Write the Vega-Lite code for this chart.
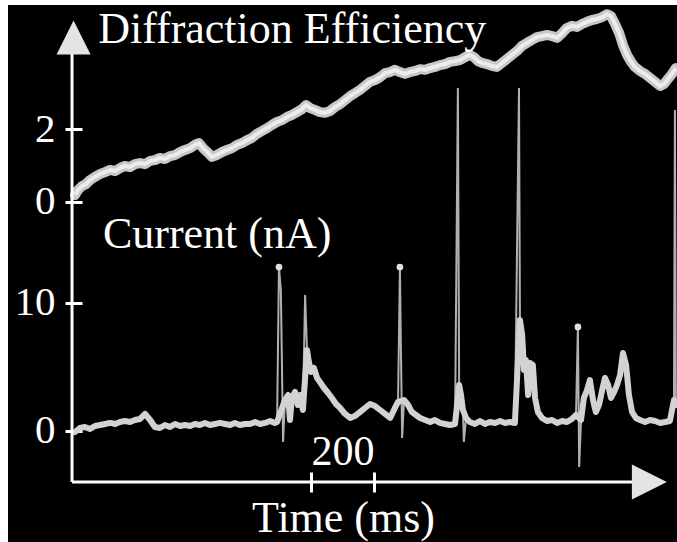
{
  "$schema": "https://vega.github.io/schema/vega-lite/v6.json",
  "width": 669,
  "height": 537,
  "autosize": {"type": "none"},
  "padding": {"left": 8, "top": 5, "right": 0, "bottom": 0},
  "background": "white",
  "config": {
    "view": {"fill": "black", "stroke": null},
    "axis": {"grid": false, "domain": false, "labelFont": "Liberation Serif", "labelFontSize": 41, "labelColor": "white", "tickColor": "white", "tickWidth": 3, "labelFlush": false, "labelOverlap": false, "labelBound": false, "title": null}
  },
  "datasets": {
    "de": [
      {"t":9.5,"de":0.19},{"t":19,"de":0.33},{"t":32,"de":0.44},{"t":44,"de":0.49},{"t":57,"de":0.60},{"t":73,"de":0.69},{"t":89,"de":0.77},{"t":105,"de":0.82},{"t":121,"de":0.88},{"t":137,"de":0.85},{"t":152,"de":0.93},{"t":168,"de":0.99},{"t":184,"de":0.96},{"t":200,"de":1.04},{"t":216,"de":1.07},{"t":232,"de":1.04},{"t":248,"de":1.13},{"t":263,"de":1.15},{"t":279,"de":1.21},{"t":295,"de":1.18},{"t":311,"de":1.26},{"t":327,"de":1.29},{"t":343,"de":1.37},{"t":359,"de":1.43},{"t":375,"de":1.48},{"t":390,"de":1.57},{"t":403,"de":1.62},{"t":416,"de":1.48},{"t":432,"de":1.35},{"t":444,"de":1.24},{"t":460,"de":1.29},{"t":476,"de":1.37},{"t":492,"de":1.43},{"t":508,"de":1.48},{"t":524,"de":1.57},{"t":540,"de":1.62},{"t":556,"de":1.70},{"t":571,"de":1.76},{"t":587,"de":1.87},{"t":603,"de":1.95},{"t":619,"de":2.03},{"t":635,"de":2.12},{"t":651,"de":2.20},{"t":667,"de":2.25},{"t":683,"de":2.34},{"t":698,"de":2.39},{"t":714,"de":2.47},{"t":730,"de":2.55},{"t":743,"de":2.66},{"t":756,"de":2.58},{"t":771,"de":2.53},{"t":787,"de":2.47},{"t":803,"de":2.45},{"t":819,"de":2.50},{"t":835,"de":2.61},{"t":851,"de":2.69},{"t":867,"de":2.80},{"t":883,"de":2.91},{"t":898,"de":2.99},{"t":914,"de":3.08},{"t":930,"de":3.19},{"t":946,"de":3.30},{"t":962,"de":3.35},{"t":978,"de":3.43},{"t":994,"de":3.54},{"t":1010,"de":3.57},{"t":1025,"de":3.63},{"t":1041,"de":3.57},{"t":1057,"de":3.52},{"t":1073,"de":3.57},{"t":1089,"de":3.60},{"t":1105,"de":3.65},{"t":1121,"de":3.63},{"t":1137,"de":3.68},{"t":1152,"de":3.71},{"t":1168,"de":3.76},{"t":1184,"de":3.79},{"t":1200,"de":3.85},{"t":1216,"de":3.87},{"t":1232,"de":3.90},{"t":1248,"de":3.98},{"t":1263,"de":4.04},{"t":1276,"de":3.98},{"t":1289,"de":3.87},{"t":1302,"de":3.82},{"t":1317,"de":3.79},{"t":1333,"de":3.74},{"t":1349,"de":3.71},{"t":1365,"de":3.82},{"t":1381,"de":3.93},{"t":1397,"de":4.04},{"t":1413,"de":4.15},{"t":1429,"de":4.29},{"t":1444,"de":4.37},{"t":1460,"de":4.45},{"t":1476,"de":4.53},{"t":1492,"de":4.56},{"t":1508,"de":4.59},{"t":1524,"de":4.56},{"t":1540,"de":4.51},{"t":1556,"de":4.64},{"t":1571,"de":4.78},{"t":1587,"de":4.84},{"t":1603,"de":4.81},{"t":1619,"de":4.89},{"t":1635,"de":4.95},{"t":1651,"de":5.00},{"t":1667,"de":5.03},{"t":1683,"de":5.08},{"t":1698,"de":5.16},{"t":1711,"de":5.11},{"t":1724,"de":4.89},{"t":1737,"de":4.64},{"t":1749,"de":4.31},{"t":1762,"de":4.04},{"t":1775,"de":3.85},{"t":1787,"de":3.71},{"t":1803,"de":3.60},{"t":1819,"de":3.52},{"t":1835,"de":3.41},{"t":1851,"de":3.30},{"t":1867,"de":3.19},{"t":1879,"de":3.24},{"t":1892,"de":3.38},{"t":1905,"de":3.52},{"t":1917,"de":3.68}
    ],
    "cur": [
      {"t":9.5,"i":-0.08,"kind":"trace"},{"t":25,"i":0.23,"kind":"trace"},{"t":41,"i":0.31,"kind":"trace"},{"t":57,"i":0.16,"kind":"trace"},{"t":73,"i":0.39,"kind":"trace"},{"t":89,"i":0.47,"kind":"trace"},{"t":105,"i":0.55,"kind":"trace"},{"t":121,"i":0.63,"kind":"trace"},{"t":137,"i":0.55,"kind":"trace"},{"t":152,"i":0.70,"kind":"trace"},{"t":168,"i":0.78,"kind":"trace"},{"t":184,"i":0.70,"kind":"trace"},{"t":200,"i":0.86,"kind":"trace"},{"t":216,"i":0.94,"kind":"trace"},{"t":232,"i":1.33,"kind":"trace"},{"t":248,"i":0.86,"kind":"trace"},{"t":263,"i":0.31,"kind":"trace"},{"t":279,"i":0.23,"kind":"trace"},{"t":295,"i":0.47,"kind":"trace"},{"t":311,"i":0.31,"kind":"trace"},{"t":327,"i":0.55,"kind":"trace"},{"t":343,"i":0.39,"kind":"trace"},{"t":359,"i":0.47,"kind":"trace"},{"t":375,"i":0.39,"kind":"trace"},{"t":390,"i":0.55,"kind":"trace"},{"t":406,"i":0.47,"kind":"trace"},{"t":422,"i":0.63,"kind":"trace"},{"t":438,"i":0.47,"kind":"trace"},{"t":454,"i":0.55,"kind":"trace"},{"t":470,"i":0.63,"kind":"trace"},{"t":486,"i":0.55,"kind":"trace"},{"t":502,"i":0.47,"kind":"trace"},{"t":517,"i":0.63,"kind":"trace"},{"t":533,"i":0.47,"kind":"trace"},{"t":549,"i":0.55,"kind":"trace"},{"t":565,"i":0.55,"kind":"trace"},{"t":581,"i":0.70,"kind":"trace"},{"t":597,"i":0.55,"kind":"trace"},{"t":613,"i":0.63,"kind":"trace"},{"t":629,"i":0.78,"kind":"trace"},{"t":644,"i":0.63,"kind":"trace"},{"t":651,"i":0.70,"kind":"trace"},
      {"t":657,"i":12.81,"kind":"dot"},{"t":663,"i":11.0,"kind":"spike"},{"t":670,"i":-0.86,"kind":"spike"},
      {"t":676,"i":2.42,"kind":"trace"},{"t":686,"i":2.81,"kind":"trace"},{"t":692,"i":0.86,"kind":"trace"},{"t":698,"i":2.58,"kind":"trace"},{"t":708,"i":3.05,"kind":"trace"},{"t":717,"i":2.03,"kind":"trace"},{"t":724,"i":2.81,"kind":"trace"},{"t":733,"i":1.64,"kind":"trace"},
      {"t":740,"i":10.63,"kind":"spike"},
      {"t":746,"i":6.33,"kind":"trace"},{"t":752,"i":5.39,"kind":"trace"},{"t":759,"i":4.61,"kind":"trace"},{"t":768,"i":4.92,"kind":"trace"},{"t":778,"i":4.14,"kind":"trace"},{"t":787,"i":3.83,"kind":"trace"},{"t":800,"i":3.36,"kind":"trace"},{"t":813,"i":2.97,"kind":"trace"},{"t":825,"i":2.58,"kind":"trace"},{"t":838,"i":2.11,"kind":"trace"},{"t":851,"i":1.80,"kind":"trace"},{"t":867,"i":1.33,"kind":"trace"},{"t":883,"i":1.02,"kind":"trace"},{"t":898,"i":1.17,"kind":"trace"},{"t":914,"i":1.48,"kind":"trace"},{"t":930,"i":1.80,"kind":"trace"},{"t":946,"i":2.11,"kind":"trace"},{"t":962,"i":1.95,"kind":"trace"},{"t":978,"i":1.64,"kind":"trace"},{"t":994,"i":1.33,"kind":"trace"},{"t":1010,"i":1.02,"kind":"trace"},{"t":1025,"i":1.80,"kind":"trace"},{"t":1035,"i":2.27,"kind":"trace"},
      {"t":1041,"i":12.81,"kind":"dot"},{"t":1044,"i":6.72,"kind":"spike"},{"t":1048,"i":-0.55,"kind":"spike"},
      {"t":1054,"i":2.42,"kind":"trace"},{"t":1067,"i":2.03,"kind":"trace"},{"t":1079,"i":1.48,"kind":"trace"},{"t":1092,"i":1.25,"kind":"trace"},{"t":1105,"i":1.02,"kind":"trace"},{"t":1121,"i":0.86,"kind":"trace"},{"t":1137,"i":0.70,"kind":"trace"},{"t":1152,"i":0.86,"kind":"trace"},{"t":1168,"i":0.63,"kind":"trace"},{"t":1184,"i":0.55,"kind":"trace"},{"t":1200,"i":0.47,"kind":"trace"},{"t":1216,"i":0.55,"kind":"trace"},
      {"t":1225,"i":26.80,"kind":"spike"},
      {"t":1229,"i":3.59,"kind":"trace"},{"t":1235,"i":2.81,"kind":"trace"},{"t":1241,"i":1.64,"kind":"trace"},{"t":1244,"i":-0.86,"kind":"spike"},{"t":1251,"i":1.02,"kind":"trace"},{"t":1263,"i":0.70,"kind":"trace"},{"t":1279,"i":0.55,"kind":"trace"},{"t":1295,"i":0.78,"kind":"trace"},{"t":1311,"i":0.55,"kind":"trace"},{"t":1327,"i":0.70,"kind":"trace"},{"t":1343,"i":0.63,"kind":"trace"},{"t":1359,"i":0.78,"kind":"trace"},{"t":1375,"i":0.63,"kind":"trace"},{"t":1390,"i":0.70,"kind":"trace"},{"t":1406,"i":0.63,"kind":"trace"},
      {"t":1419,"i":26.80,"kind":"spike"},
      {"t":1422,"i":8.67,"kind":"trace"},{"t":1429,"i":7.50,"kind":"trace"},{"t":1435,"i":4.77,"kind":"trace"},{"t":1441,"i":5.55,"kind":"trace"},{"t":1448,"i":2.81,"kind":"trace"},{"t":1454,"i":5.31,"kind":"trace"},{"t":1463,"i":5.16,"kind":"trace"},{"t":1470,"i":2.58,"kind":"trace"},{"t":1479,"i":1.48,"kind":"trace"},{"t":1492,"i":1.02,"kind":"trace"},{"t":1508,"i":0.78,"kind":"trace"},{"t":1524,"i":0.86,"kind":"trace"},{"t":1540,"i":0.63,"kind":"trace"},{"t":1556,"i":0.78,"kind":"trace"},{"t":1571,"i":0.70,"kind":"trace"},{"t":1587,"i":0.94,"kind":"trace"},{"t":1600,"i":1.25,"kind":"trace"},
      {"t":1606,"i":8.13,"kind":"dot"},{"t":1610,"i":-2.81,"kind":"spike"},
      {"t":1616,"i":0.86,"kind":"trace"},{"t":1625,"i":2.58,"kind":"trace"},{"t":1635,"i":3.20,"kind":"trace"},{"t":1644,"i":3.98,"kind":"trace"},{"t":1654,"i":2.42,"kind":"trace"},{"t":1663,"i":1.48,"kind":"trace"},{"t":1673,"i":2.03,"kind":"trace"},{"t":1683,"i":3.20,"kind":"trace"},{"t":1692,"i":4.14,"kind":"trace"},{"t":1702,"i":3.59,"kind":"trace"},{"t":1711,"i":2.58,"kind":"trace"},{"t":1721,"i":3.05,"kind":"trace"},{"t":1730,"i":3.59,"kind":"trace"},{"t":1740,"i":4.38,"kind":"trace"},{"t":1749,"i":6.09,"kind":"trace"},{"t":1759,"i":5.16,"kind":"trace"},{"t":1768,"i":2.81,"kind":"trace"},{"t":1778,"i":1.48,"kind":"trace"},{"t":1790,"i":1.02,"kind":"trace"},{"t":1803,"i":0.86,"kind":"trace"},{"t":1819,"i":0.70,"kind":"trace"},{"t":1835,"i":0.86,"kind":"trace"},{"t":1851,"i":0.78,"kind":"trace"},{"t":1867,"i":0.63,"kind":"trace"},{"t":1883,"i":0.70,"kind":"trace"},{"t":1898,"i":0.78,"kind":"trace"},{"t":1911,"i":2.42,"kind":"trace"},
      {"t":1914,"i":25.08,"kind":"spike"},{"t":1917,"i":2.03,"kind":"trace"}
    ]
  },
  "resolve": {"scale": {"y": "independent"}, "axis": {"y": "independent"}},
  "layer": [
    {
      "data": {"name": "de"},
      "layer": [
        {
          "mark": {"type": "line", "strokeWidth": 10, "color": "#c8c8c8", "strokeJoin": "round", "strokeCap": "round"},
          "encoding": {
            "x": {"field": "t", "type": "quantitative", "scale": {"domain": [-203.2, 1920.6], "nice": false, "zero": false}},
            "y": {"field": "de", "type": "quantitative", "scale": {"domain": [-9.341, 5.412], "nice": false, "zero": false}, "axis": {"orient": "left", "values": [0, 2], "offset": -74, "tickSize": 17, "labelPadding": 10, "format": "d"}}
          }
        },
        {
          "mark": {"type": "line", "strokeWidth": 4, "color": "#ececec", "strokeJoin": "round"},
          "encoding": {
            "x": {"field": "t", "type": "quantitative"},
            "y": {"field": "de", "type": "quantitative"}
          }
        },
        {
          "data": {"values": [{"label": "Diffraction Efficiency"}]},
          "mark": {"type": "text", "font": "Liberation Serif", "fontSize": 44, "color": "white", "align": "left", "baseline": "alphabetic"},
          "encoding": {
            "x": {"datum": 83, "type": "quantitative"},
            "y": {"datum": 4.37, "type": "quantitative"},
            "text": {"field": "label"}
          }
        }
      ]
    },
    {
      "data": {"name": "cur"},
      "layer": [
        {
          "mark": {"type": "line", "strokeWidth": 2, "color": "#b0b0b0"},
          "encoding": {
            "x": {"field": "t", "type": "quantitative", "axis": {"orient": "bottom", "values": [760, 960], "offset": -70, "tickSize": 20, "labels": false}},
            "y": {"field": "i", "type": "quantitative", "scale": {"domain": [-8.672, 33.281], "nice": false, "zero": false}, "axis": {"orient": "left", "values": [0, 10], "offset": -74, "tickSize": 17, "labelPadding": 10, "format": "d"}}
          }
        },
        {
          "transform": [{"filter": "datum.kind === 'trace'"}],
          "mark": {"type": "line", "strokeWidth": 6, "color": "#d2d2d2", "strokeJoin": "round", "strokeCap": "round"},
          "encoding": {
            "x": {"field": "t", "type": "quantitative"},
            "y": {"field": "i", "type": "quantitative"}
          }
        },
        {
          "transform": [{"filter": "datum.kind === 'dot'"}],
          "mark": {"type": "point", "filled": true, "size": 45, "color": "#e0e0e0", "opacity": 1},
          "encoding": {
            "x": {"field": "t", "type": "quantitative"},
            "y": {"field": "i", "type": "quantitative"}
          }
        },
        {
          "data": {"values": [{}]},
          "mark": {"type": "rule", "color": "white", "strokeWidth": 3},
          "encoding": {
            "x": {"datum": 0, "type": "quantitative"},
            "y": {"datum": -3.984, "type": "quantitative"},
            "y2": {"datum": 29.77}
          }
        },
        {
          "data": {"values": [{}]},
          "mark": {"type": "rule", "color": "white", "strokeWidth": 3},
          "encoding": {
            "x": {"datum": 0, "type": "quantitative"},
            "x2": {"datum": 1803},
            "y": {"datum": -3.984, "type": "quantitative"}
          }
        },
        {
          "data": {"values": [{}]},
          "mark": {"type": "point", "shape": "M0,-1L-1,1L1,1Z", "filled": true, "size": 1156, "color": "#e4e4e4", "opacity": 1},
          "encoding": {
            "x": {"datum": 5, "type": "quantitative"},
            "y": {"datum": 30.74, "type": "quantitative"}
          }
        },
        {
          "data": {"values": [{}]},
          "mark": {"type": "point", "shape": "M1,0L-1,-1L-1,1Z", "filled": true, "size": 1225, "color": "#e4e4e4", "opacity": 1},
          "encoding": {
            "x": {"datum": 1833, "type": "quantitative"},
            "y": {"datum": -3.984, "type": "quantitative"}
          }
        },
        {
          "data": {"values": [{"label": "Current (nA)"}]},
          "mark": {"type": "text", "font": "Liberation Serif", "fontSize": 44, "color": "white", "align": "left", "baseline": "alphabetic"},
          "encoding": {
            "x": {"datum": 98, "type": "quantitative"},
            "y": {"datum": 14.3, "type": "quantitative"},
            "text": {"field": "label"}
          }
        },
        {
          "data": {"values": [{"label": "200"}]},
          "mark": {"type": "text", "font": "Liberation Serif", "fontSize": 42, "color": "white", "align": "center", "baseline": "alphabetic"},
          "encoding": {
            "x": {"datum": 860, "type": "quantitative"},
            "y": {"datum": -2.66, "type": "quantitative"},
            "text": {"field": "label"}
          }
        },
        {
          "data": {"values": [{"label": "Time (ms)"}]},
          "mark": {"type": "text", "font": "Liberation Serif", "fontSize": 44, "color": "white", "align": "center", "baseline": "alphabetic"},
          "encoding": {
            "x": {"datum": 862, "type": "quantitative"},
            "y": {"datum": -7.89, "type": "quantitative"},
            "text": {"field": "label"}
          }
        }
      ]
    }
  ]
}
